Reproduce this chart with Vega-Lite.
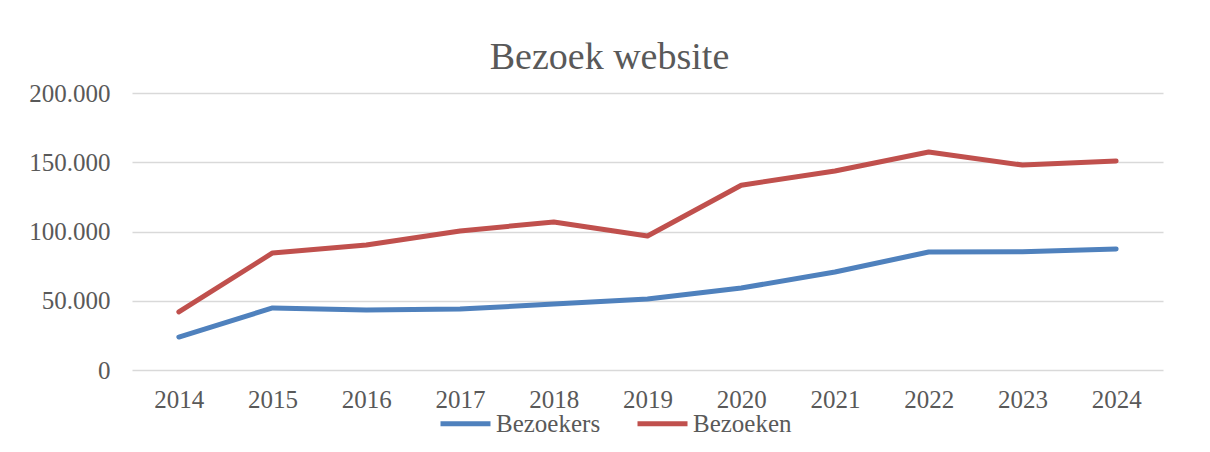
{
  "$schema": "https://vega.github.io/schema/vega-lite/v6.json",
  "autosize": {"type": "none"},
  "width": 1031,
  "height": 277,
  "padding": {"left": 132, "top": 93, "right": 47, "bottom": 82},
  "background": "white",
  "title": {"text": "Bezoek website", "anchor": "middle", "frame": "group", "dx": -38, "dy": 48, "offset": 22, "baseline": "alphabetic", "font": "Liberation Serif", "fontSize": 38, "fontWeight": "normal", "color": "#595959"},
  "data": {"values": [
    {"jaar": "2014", "reeks": "Bezoekers", "waarde": 23800},
    {"jaar": "2015", "reeks": "Bezoekers", "waarde": 44800},
    {"jaar": "2016", "reeks": "Bezoekers", "waarde": 43300},
    {"jaar": "2017", "reeks": "Bezoekers", "waarde": 44000},
    {"jaar": "2018", "reeks": "Bezoekers", "waarde": 47600},
    {"jaar": "2019", "reeks": "Bezoekers", "waarde": 51300},
    {"jaar": "2020", "reeks": "Bezoekers", "waarde": 59200},
    {"jaar": "2021", "reeks": "Bezoekers", "waarde": 70800},
    {"jaar": "2022", "reeks": "Bezoekers", "waarde": 85200},
    {"jaar": "2023", "reeks": "Bezoekers", "waarde": 85300},
    {"jaar": "2024", "reeks": "Bezoekers", "waarde": 87400},
    {"jaar": "2014", "reeks": "Bezoeken", "waarde": 42000},
    {"jaar": "2015", "reeks": "Bezoeken", "waarde": 84500},
    {"jaar": "2016", "reeks": "Bezoeken", "waarde": 90300},
    {"jaar": "2017", "reeks": "Bezoeken", "waarde": 100400},
    {"jaar": "2018", "reeks": "Bezoeken", "waarde": 106900},
    {"jaar": "2019", "reeks": "Bezoeken", "waarde": 96800},
    {"jaar": "2020", "reeks": "Bezoeken", "waarde": 133400},
    {"jaar": "2021", "reeks": "Bezoeken", "waarde": 143700},
    {"jaar": "2022", "reeks": "Bezoeken", "waarde": 157400},
    {"jaar": "2023", "reeks": "Bezoeken", "waarde": 148000},
    {"jaar": "2024", "reeks": "Bezoeken", "waarde": 150900}
  ]},
  "mark": {"type": "line", "strokeWidth": 5, "strokeCap": "round", "strokeJoin": "round"},
  "encoding": {
    "x": {"field": "jaar", "type": "ordinal", "scale": {"type": "point", "padding": 0.5},
      "axis": {"title": null, "labelAngle": 0, "domain": false, "ticks": false, "grid": false, "labelPadding": 17}},
    "y": {"field": "waarde", "type": "quantitative", "scale": {"domain": [0, 200000], "nice": false},
      "axis": {"title": null, "values": [0, 50000, 100000, 150000, 200000], "format": ",d", "domain": false, "ticks": false, "labelPadding": 22}},
    "color": {"field": "reeks", "type": "nominal",
      "scale": {"domain": ["Bezoekers", "Bezoeken"], "range": ["#4F81BD", "#C0504D"]},
      "legend": {"title": null, "orient": "none", "direction": "horizontal", "legendX": 306, "legendY": 303, "symbolType": "stroke", "symbolSize": 2500, "symbolStrokeWidth": 5, "labelOffset": 3, "columnPadding": 26}}
  },
  "config": {
    "locale": {"number": {"decimal": ",", "thousands": ".", "grouping": [3], "currency": ["€", ""]}},
    "view": {"stroke": null},
    "axis": {"labelFont": "Liberation Serif", "labelFontSize": 25, "labelColor": "#595959", "gridColor": "#d9d9d9", "gridWidth": 1.5},
    "legend": {"labelFont": "Liberation Serif", "labelFontSize": 25, "labelColor": "#595959"}
  }
}
